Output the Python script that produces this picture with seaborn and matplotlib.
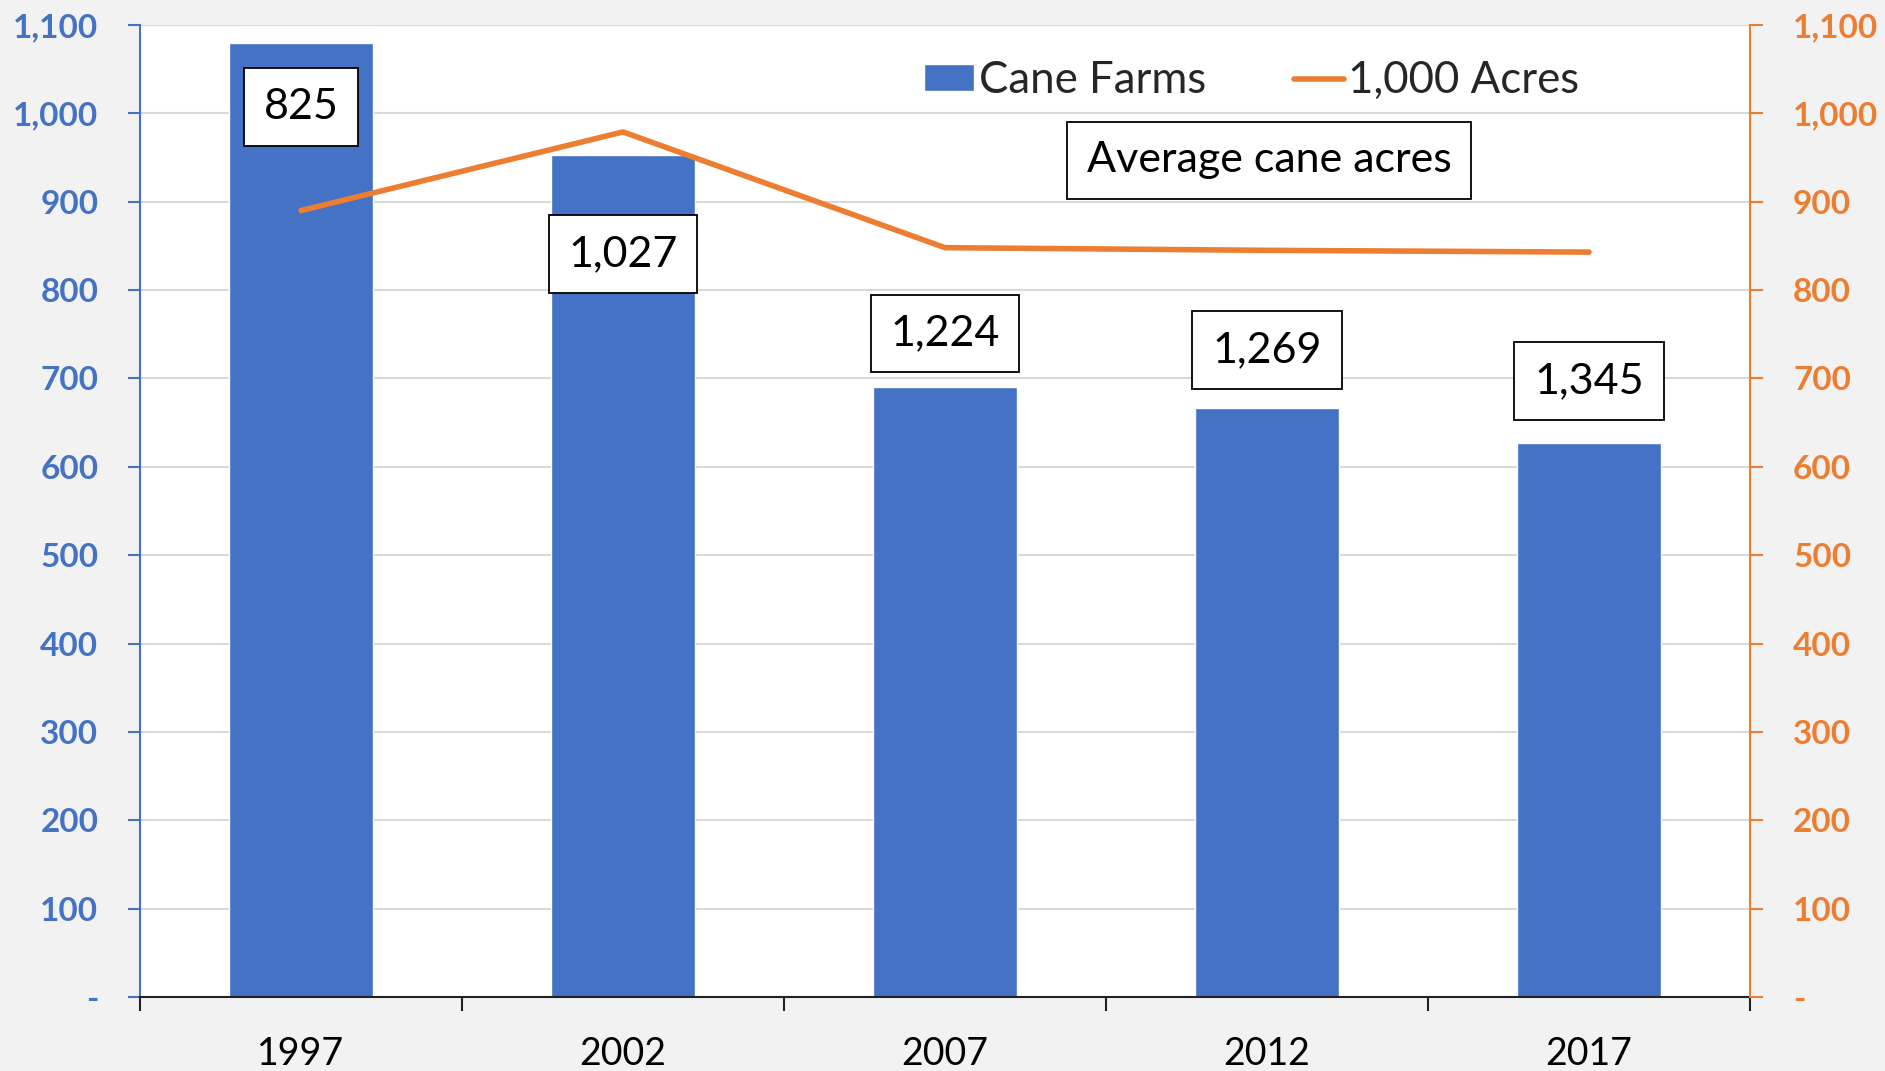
import matplotlib
matplotlib.use("Agg")
import matplotlib.pyplot as plt
import seaborn as sns
import numpy as np
import pandas as pd
from matplotlib.ticker import FuncFormatter, MultipleLocator

# ---- data ----
years = ["1997", "2002", "2007", "2012", "2017"]
cane_farms = [1080, 953, 690, 666, 627]
acres_1000 = [890, 979, 848, 845, 843]
avg_cane_acres = ["825", "1,027", "1,224", "1,269", "1,345"]

# layout for the average-acre boxes (left-axis units)
label_y = [1007, 841, 751, 732, 697]

BLUE = "#4472C4"
ORANGE = "#ED7D31"
FONT = "Lato"

sns.set_theme(style="white")
plt.rcParams["font.family"] = [FONT, "DejaVu Sans"]

df = pd.DataFrame({"year": years, "farms": cane_farms, "acres": acres_1000,
                   "pos": np.arange(len(years))})

fig = plt.figure(figsize=(18.85, 10.71), dpi=100, facecolor="#F2F2F2")
ax = fig.add_axes([140/1885, 1-997/1071, 1610/1885, 972/1071])
ax.set_facecolor("white")

sns.barplot(data=df, x="year", y="farms", color=BLUE, saturation=1,
            width=0.45, ax=ax, label="Cane Farms", zorder=2)
ax2 = ax.twinx()
sns.lineplot(data=df, x="pos", y="acres", color=ORANGE, lw=4, sort=False,
             ax=ax2, label="1,000 Acres", solid_capstyle="round", zorder=3)

for a in (ax, ax2):
    a.set_ylim(0, 1100)
    a.yaxis.set_major_locator(MultipleLocator(100))
    a.yaxis.set_major_formatter(FuncFormatter(lambda v, p: "-" if v == 0 else f"{int(v):,}"))
    a.set_xlim(-0.5, len(years) - 0.5)
    a.set_xlabel("")
    a.set_ylabel("")

ax.grid(axis="y", color="#D9D9D9", lw=1.5, zorder=0)
ax.set_axisbelow(True)
ax2.grid(False)

ax.spines["top"].set_visible(False)
ax2.spines["top"].set_visible(False)
ax.spines["right"].set_visible(False)
ax2.spines["left"].set_visible(False)
ax2.spines["bottom"].set_visible(False)
ax.spines["left"].set_color(BLUE)
ax.spines["left"].set_linewidth(1.5)
ax2.spines["right"].set_color(ORANGE)
ax2.spines["right"].set_linewidth(1.5)
ax.spines["bottom"].set_color("#222222")
ax.spines["bottom"].set_linewidth(1.5)

ax.tick_params(axis="y", colors=BLUE, length=9, width=1.5, pad=21, labelsize=24, direction="out", left=True)
ax2.tick_params(axis="y", colors=ORANGE, length=9, width=1.5, pad=22, labelsize=24, direction="out", right=True)
for lab in ax.get_yticklabels() + ax2.get_yticklabels():
    lab.set_fontweight("bold")

# x ticks at category boundaries, labels at centers
ax.set_xticks(np.arange(len(years)))
ax.set_xticklabels(years)
ax.set_xticks(np.arange(-0.5, len(years)), minor=True)
ax.tick_params(axis="x", which="major", length=0, pad=28, labelsize=27, labelcolor="black")
ax.tick_params(axis="x", which="minor", length=10, width=1.5, color="#222222", direction="out", bottom=True)
ax2.tick_params(axis="x", which="both", length=0, labelbottom=False)

# average-acre boxes
for i, (txt, y) in enumerate(zip(avg_cane_acres, label_y)):
    ax.text(i, y, txt, ha="center", va="center", fontsize=31, color="black", zorder=5,
            bbox=dict(boxstyle="square,pad=0.46", fc="white", ec="black", lw=1.3))

ax.text(3.006, 946.7, "Average cane acres", ha="center", va="center", fontsize=31, color="black",
        zorder=5, bbox=dict(boxstyle="square,pad=0.46", fc="white", ec="black", lw=1.3))

# legend
h1, l1 = ax.get_legend_handles_labels()
h2, l2 = ax2.get_legend_handles_labels()
if ax2.get_legend():
    ax2.get_legend().remove()
leg = ax.legend(h1 + h2, l1 + l2, loc="center left", bbox_to_anchor=(0.487, 0.943), ncol=2,
                frameon=False, fontsize=31.5, borderpad=0, handlelength=1.15, handleheight=0.55,
                handletextpad=0.1, columnspacing=2.0, borderaxespad=0)
leg.set_zorder(6)

fig.savefig("out.png", dpi=100, facecolor=fig.get_facecolor())
